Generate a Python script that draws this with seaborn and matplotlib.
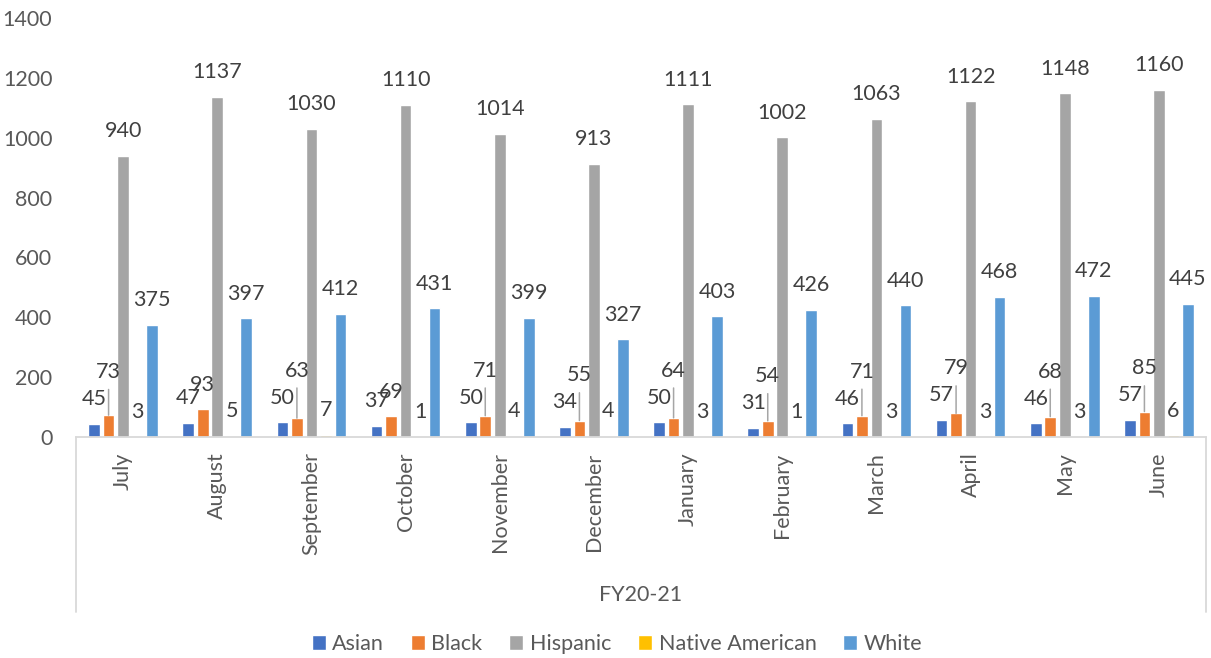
import matplotlib
matplotlib.use("Agg")
import matplotlib.pyplot as plt
from matplotlib.lines import Line2D
import pandas as pd
import seaborn as sns

months = ["July", "August", "September", "October", "November", "December",
          "January", "February", "March", "April", "May", "June"]
groups = ["Asian", "Black", "Hispanic", "Native American", "White"]
asian = [45, 47, 50, 37, 50, 34, 50, 31, 46, 57, 46, 57]
black = [73, 93, 63, 69, 71, 55, 64, 54, 71, 79, 68, 85]
hispanic = [940, 1137, 1030, 1110, 1014, 913, 1111, 1002, 1063, 1122, 1148, 1160]
native_american = [3, 5, 7, 1, 4, 4, 3, 1, 3, 3, 3, 6]
white = [375, 397, 412, 431, 399, 327, 403, 426, 440, 468, 472, 445]
period = "FY20-21"
y_ticks = [0, 200, 400, 600, 800, 1000, 1200, 1400]

colors = ["#4472C4", "#ED7D31", "#A5A5A5", "#FFC000", "#5B9BD5"]
series = [asian, black, hispanic, native_american, white]

df = pd.DataFrame({
    "Month": months * len(groups),
    "Group": [g for g in groups for _ in months],
    "Count": [v for s in series for v in s],
})

DPI = 100
sns.set_theme(style="white")
plt.rcParams["font.family"] = ["Lato", "DejaVu Sans"]
TICK_C = "#595959"
LABEL_C = "#404040"
FS = 15.5

fig = plt.figure(figsize=(12.11, 6.58), dpi=DPI)
ax = fig.add_axes([76 / 1211, 221 / 658, 1130 / 1211, 419 / 658])

sns.barplot(data=df, x="Month", y="Count", hue="Group", order=months,
            hue_order=groups, palette=colors, width=0.77, gap=0.2,
            saturation=1, errorbar=None, ax=ax)

ax.set_ylim(0, 1400)
ax.set_yticks(y_ticks)
ax.set_xlim(-0.5, len(months) - 0.5)
ax.set_xlabel("")
ax.set_ylabel("")
for side in ["top", "right", "left"]:
    ax.spines[side].set_visible(False)
ax.spines["bottom"].set_color("#d9d9d9")
ax.spines["bottom"].set_linewidth(1.3)
ax.tick_params(axis="y", length=0, pad=17, labelsize=FS, labelcolor=TICK_C)
ax.tick_params(axis="x", length=0, pad=11, labelsize=FS, labelcolor=TICK_C,
               labelrotation=90)

# pixels per data unit on the value axis
ppu = (419 / 1400)
px2pt = 72 / DPI
base_off = 24.5  # px from bar top to label centre
lift_gap = 27    # px between stacked Asian/Black labels

for gi, (cont, vals) in enumerate(zip(ax.containers, series)):
    for i, (bar, v) in enumerate(zip(cont, vals)):
        xc = bar.get_x() + bar.get_width() / 2
        if gi == 1 and (v - asian[i]) * ppu < 9:
            # raise the label clear of the neighbouring one, with a leader line
            off_px = (asian[i] - v) * ppu + base_off + lift_gap
            ax.annotate(str(v), xy=(xc, v), xytext=(0, off_px * px2pt),
                        textcoords="offset points", ha="center", va="center",
                        fontsize=FS, color=LABEL_C,
                        arrowprops=dict(arrowstyle="-", color="#a6a6a6",
                                        lw=1.1, shrinkA=3, shrinkB=0))
        else:
            ax.annotate(str(v), xy=(xc, v), xytext=(0, base_off * px2pt),
                        textcoords="offset points", ha="center", va="center",
                        fontsize=FS, color=LABEL_C)

# outer category box for the fiscal year
for xf in (76 / 1211, 1206 / 1211):
    fig.add_artist(Line2D([xf, xf], [221 / 658, 46 / 658],
                          color="#d9d9d9", lw=1.3))
fig.text(641 / 1211, 1 - 595 / 658, period, ha="center", va="center",
         fontsize=FS, color=TICK_C)

handles, labels = ax.get_legend_handles_labels()
if ax.legend_ is not None:
    ax.legend_.remove()
fig.legend(handles, labels, loc="center", bbox_to_anchor=(617 / 1211, 14 / 658),
           ncol=5, frameon=False, fontsize=FS, labelcolor=TICK_C,
           handlelength=0.65, handleheight=0.65, handletextpad=0.3,
           columnspacing=1.25)

fig.savefig("out.png", dpi=DPI)
